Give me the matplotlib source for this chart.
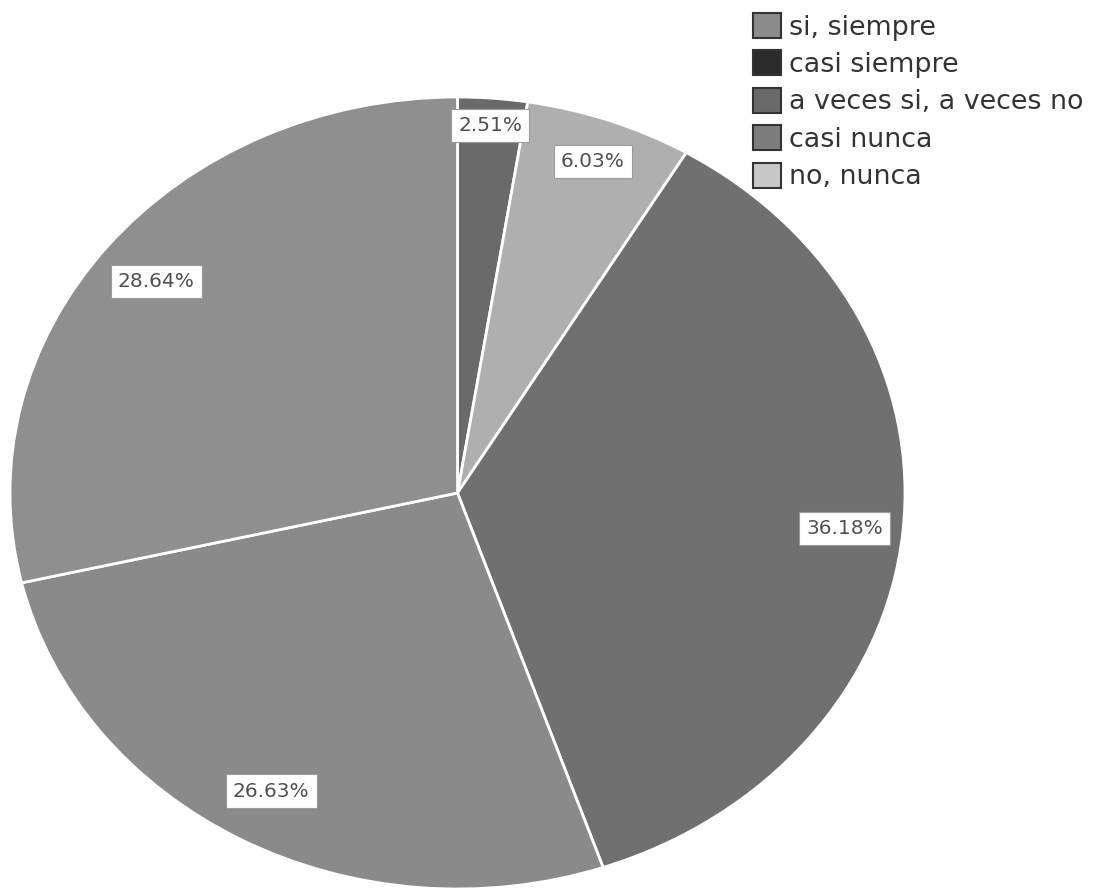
import numpy as np
import matplotlib
matplotlib.use("Agg")
import matplotlib.pyplot as plt
from matplotlib.patches import Patch

# Legend categories and their (greyscale) swatch colours
categories = ["si, siempre", "casi siempre", "a veces si, a veces no", "casi nunca", "no, nunca"]
legend_colors = ["#8c8c8c", "#2b2b2b", "#696969", "#7d7d7d", "#c8c8c8"]

# Pie slices, clockwise from 12 o'clock
slice_values = [2.51, 6.03, 36.18, 26.63, 28.64]
slice_colors = ["#6a6a6a", "#afafaf", "#707070", "#8a8a8a", "#8f8f8f"]

fig = plt.figure(figsize=(10.94, 8.9), dpi=100)
fig.patch.set_facecolor("white")

# pie is stretched horizontally in the reference, so use a non-equal aspect
ax = fig.add_axes([10 / 1094, 1 / 890, 895 / 1094, 792 / 890])
wedges, texts, autotexts = ax.pie(
    slice_values, colors=slice_colors, startangle=90, counterclock=False,
    radius=1.0, autopct=lambda p: f"{p:.2f}%", pctdistance=0.87,
    wedgeprops=dict(edgecolor="white", linewidth=2),
    textprops=dict(fontsize=14.5, color="#505050", fontweight="medium"),
)
ax.set_xlim(-1, 1)
ax.set_ylim(-1, 1)
ax.set_aspect("auto")
ax.axis("off")

# label radius per slice (small slices sit a bit further out)
label_r = [0.93, 0.89, 0.87, 0.86, 0.86]
for w, t, r in zip(wedges, autotexts, label_r):
    ang = np.deg2rad((w.theta1 + w.theta2) / 2)
    t.set_position((r * np.cos(ang), r * np.sin(ang)))
    t.set_bbox(dict(boxstyle="square,pad=0.35", facecolor="white",
                    edgecolor="#9a9a9a", linewidth=0.8))

handles = [Patch(facecolor=c, edgecolor="#333333", linewidth=1.5) for c in legend_colors]
fig.legend(handles, categories, loc="upper left", bbox_to_anchor=(753 / 1094, 1 - 13 / 890),
           frameon=False, fontsize=19.4, handlelength=1.05, handleheight=1.05,
           handletextpad=0.3, labelspacing=0.36, borderpad=0, borderaxespad=0,
           labelcolor="#333333")

fig.savefig("out.png", dpi=100, facecolor="white")
